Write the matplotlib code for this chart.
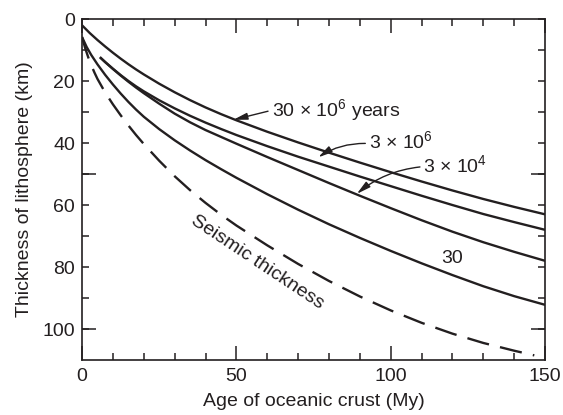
import numpy as np
import matplotlib
matplotlib.use('Agg')
import matplotlib.pyplot as plt
from matplotlib.ticker import FixedLocator, FuncFormatter

plt.rcParams['font.family'] = ['Liberation Sans', 'DejaVu Sans']
plt.rcParams['mathtext.fontset'] = 'custom'
plt.rcParams['mathtext.rm'] = 'Liberation Sans'
plt.rcParams['mathtext.default'] = 'regular'

INK = '#231f20'
FS = 14

# Lithosphere thickness (km) against age of oceanic crust (My)
age_30my = [0, 2.5, 5, 7.5, 10, 12.5, 15, 17.5, 20, 25, 30, 35, 40, 45, 50,
            60, 70, 80, 90, 100, 110, 120, 130, 140, 150]
thick_30my = [2.0, 4.5, 6.75, 8.85, 10.85, 12.75, 14.55, 16.25, 17.85, 20.85, 23.6, 26.15,
              28.5, 30.65, 32.65, 36.35, 39.8, 43.1, 46.3, 49.4, 52.4, 55.3, 58.05, 60.6, 63.0]

age_3my = [5.8, 7.5, 10, 12.5, 15, 17.5, 20, 25, 30, 35, 40, 45, 50,
           60, 70, 80, 90, 100, 110, 120, 130, 140, 150]
thick_3my = [12.3, 13.85, 16.0, 18.05, 19.95, 21.7, 23.3, 26.2, 28.8, 31.2, 33.4, 35.45, 37.4,
             41.0, 44.4, 47.6, 50.8, 53.9, 57.0, 60.0, 62.9, 65.5, 68.0]

age_30ky = [5.8, 7.5, 10, 12.5, 15, 17.5, 20, 25, 30, 35, 40, 45, 50,
            60, 70, 80, 90, 100, 110, 120, 130, 140, 150]
thick_30ky = [12.3, 13.9, 16.1, 18.2, 20.2, 22.1, 23.9, 27.3, 30.5, 33.3, 35.8, 38.0, 40.2,
              44.5, 48.7, 52.9, 57.0, 61.0, 64.9, 68.6, 72.0, 75.1, 78.0]

age_30yr = [0, 1.5, 3, 5, 7.5, 10, 12.5, 15, 17.5, 20, 25, 30, 35, 40, 45, 50,
            60, 70, 80, 90, 100, 110, 120, 130, 140, 150]
thick_30yr = [5.8, 9.0, 11.6, 14.6, 18.0, 21.1, 24.0, 26.7, 29.2, 31.5, 35.5, 39.1, 42.4,
              45.5, 48.4, 51.2, 56.5, 61.5, 66.2, 70.6, 74.8, 78.8, 82.6, 86.2, 89.4, 92.2]

age_seis = [0, 1, 2, 3, 4, 5, 7.5, 10, 12.5, 15, 17.5, 20, 25, 30, 35, 40, 45, 50,
            60, 70, 80, 90, 100, 110, 120, 130, 140, 146.5]
thick_seis = [5.8, 9.3, 12.3, 14.9, 17.2, 19.3, 23.7, 27.5, 31.0, 34.3, 37.4, 40.3, 45.7,
              50.7, 55.2, 59.3, 63.1, 66.6, 73.0, 79.0, 84.5, 89.5, 94.0, 98.0, 101.5,
              104.5, 107.0, 108.5]

fig = plt.figure(figsize=(5.63, 4.15), dpi=100)
ax = fig.add_axes([0.1457, 0.1325, 0.8225, 0.8215])

lw = 1.7
for ages, thick in [(age_30my, thick_30my), (age_3my, thick_3my),
                    (age_30ky, thick_30ky), (age_30yr, thick_30yr)]:
    ax.plot(ages, thick, color=INK, lw=lw, solid_capstyle='butt')
ax.plot(age_seis, thick_seis, color=INK, lw=lw, linestyle=(0, (9.5, 4.8)))

ax.set_xlim(0, 150)
ax.set_ylim(110, 0)

# x: long ticks every 50, short every 10
ax.xaxis.set_major_locator(FixedLocator([0, 50, 100, 150]))
ax.xaxis.set_minor_locator(FixedLocator(np.arange(0, 151, 10)))
# y: short ticks every 10 (labels every 20), long ticks at 50 and 100
ax.yaxis.set_major_locator(FixedLocator(np.arange(0, 101, 10)))
ax.yaxis.set_major_formatter(FuncFormatter(lambda v, p: f'{v:.0f}' if v % 20 == 0 else ''))
ax.yaxis.set_minor_locator(FixedLocator([50, 100]))
ax.yaxis.remove_overlapping_locs = False

ax.tick_params(axis='x', which='major', direction='in', length=10, width=1.1,
               top=True, bottom=True, labelsize=FS, colors=INK, pad=5.5)
ax.tick_params(axis='x', which='minor', direction='in', length=4.7, width=1.1,
               top=True, bottom=True, colors=INK)
ax.tick_params(axis='y', which='major', direction='in', length=4.7, width=1.1,
               left=True, right=True, labelsize=FS, colors=INK, pad=5)
ax.tick_params(axis='y', which='minor', direction='in', length=10, width=1.1,
               left=True, right=True, colors=INK)

for s in ax.spines.values():
    s.set_linewidth(1.2)
    s.set_color(INK)

ax.set_xlabel('Age of oceanic crust (My)', fontsize=FS, color=INK, labelpad=6)
ax.set_ylabel('Thickness of lithosphere (km)', fontsize=FS, color=INK, labelpad=7)

arrow = dict(arrowstyle='-|>,head_length=0.7,head_width=0.17', color=INK, lw=1.0,
             mutation_scale=12, shrinkA=0, shrinkB=0)
ax.annotate('30 × 10$^{6}$ years', xy=(49, 32.5), xytext=(61.5, 29.3),
            fontsize=FS, color=INK, va='center', ha='left',
            arrowprops=dict(arrow, connectionstyle='arc3,rad=0.0',
                            relpos=(-0.03, 0.45)))
ax.annotate('3 × 10$^{6}$', xy=(76.5, 44.6), xytext=(92.8, 39.4),
            fontsize=FS, color=INK, va='center', ha='left',
            arrowprops=dict(arrow, connectionstyle='arc3,rad=0.15',
                            relpos=(-0.05, 0.4)))
ax.annotate('3 × 10$^{4}$', xy=(89, 56.4), xytext=(110.5, 47.0),
            fontsize=FS, color=INK, va='center', ha='left',
            arrowprops=dict(arrow, connectionstyle='arc3,rad=0.15',
                            relpos=(-0.05, 0.4)))
ax.text(120, 77.1, '30', fontsize=FS, color=INK, ha='center', va='center')
ax.text(56.7, 78.4, 'Seismic thickness', fontsize=FS, color=INK, ha='center', va='center',
        rotation=-33.6, rotation_mode='anchor')

fig.savefig('out.png', dpi=100)
